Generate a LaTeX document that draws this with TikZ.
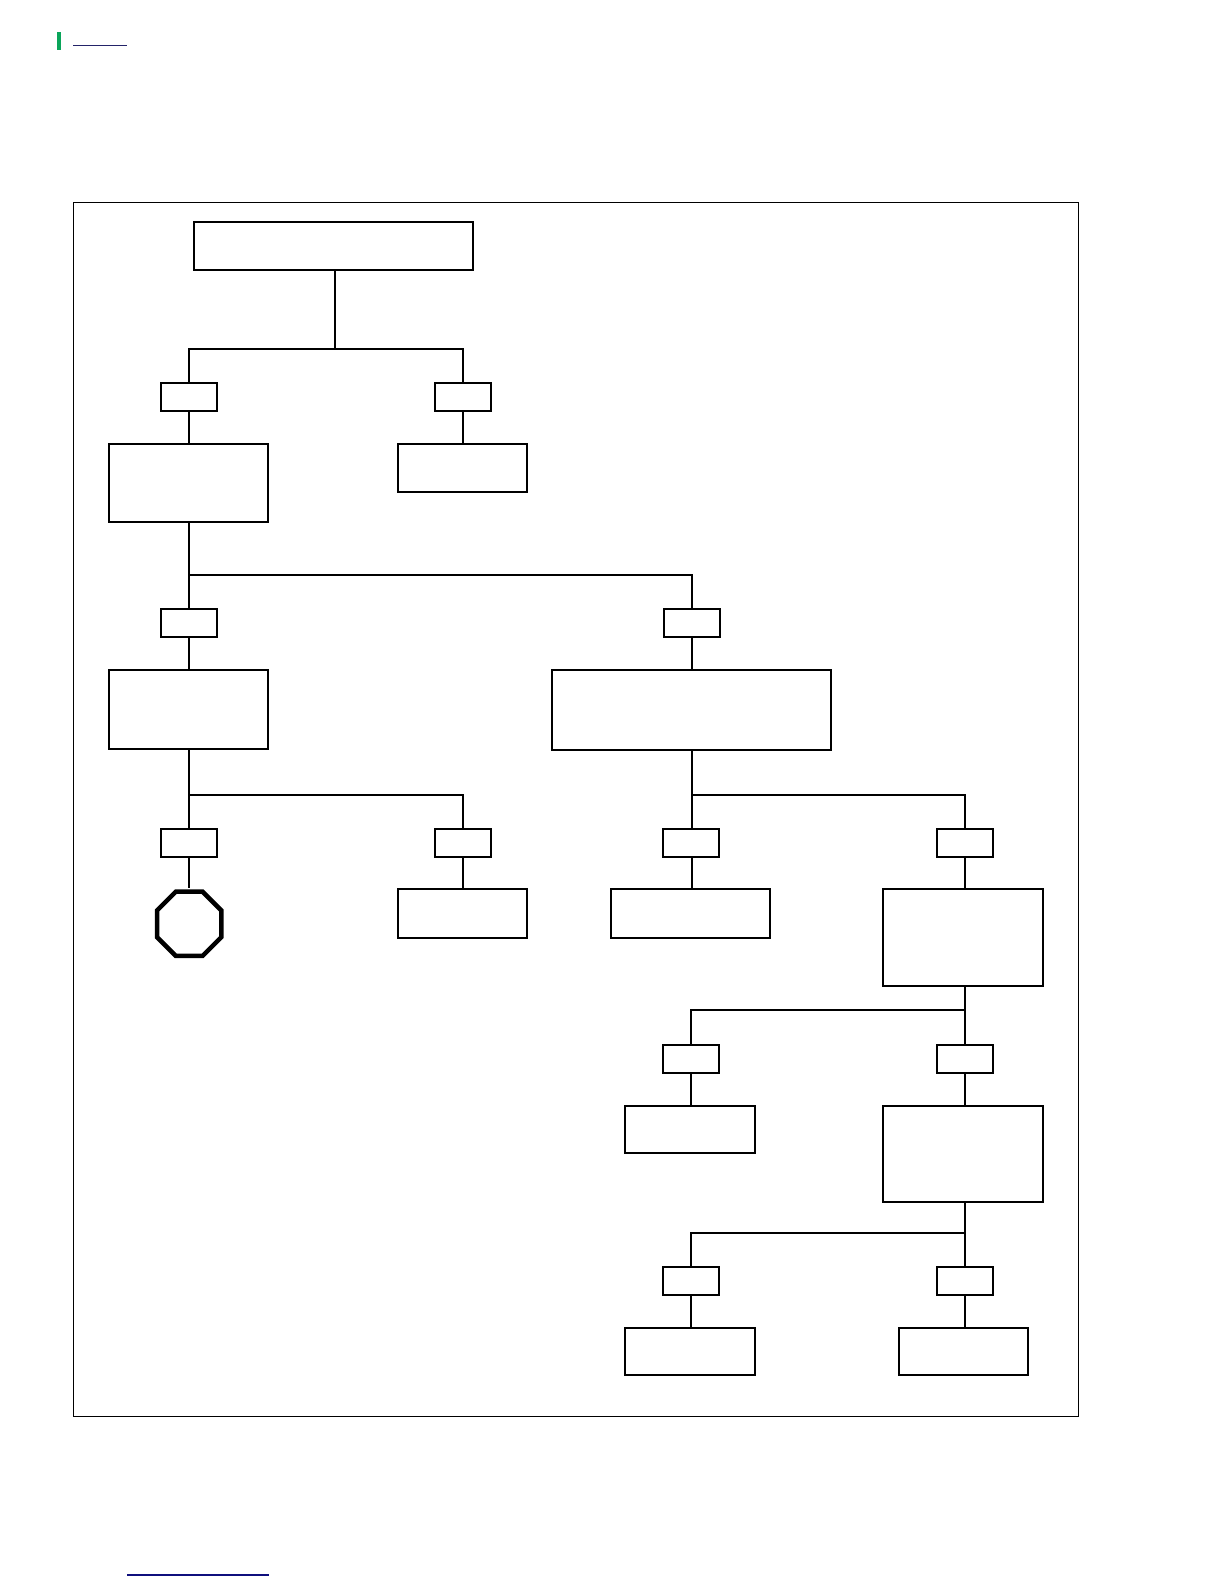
\documentclass[tikz,border=0pt]{standalone}
\usetikzlibrary{shapes.geometric}
\definecolor{markgreen}{RGB}{10,165,90}
\definecolor{ruleA}{RGB}{35,35,105}
\definecolor{ruleB}{RGB}{15,15,125}
\tikzset{
  bx/.style={draw=black,fill=white,rectangle,line width=1.02bp,inner sep=0pt,outer sep=0pt},
  tag/.style={bx,minimum width=33.6bp,minimum height=17bp},
  wire/.style={draw=black,line width=1.02bp,line join=miter},
  stopsign/.style={draw=black,fill=white,regular polygon,regular polygon sides=8,line width=2.7bp,inner sep=0pt,outer sep=0pt,minimum size=41.8bp},
  frame/.style={draw=black,line width=0.6bp}
}
\begin{document}
\begin{tikzpicture}[x=0.6bp,y=-0.6bp]
\useasboundingbox (0,0) rectangle (1224,1584);
\fill[white] (0,0) rectangle (1224,1584);
% page marks
\fill[markgreen] (57,32) rectangle (61,50);
\draw[ruleA,line width=0.8bp] (73,45.3) -- (127,45.3);
\draw[ruleB,line width=0.8bp] (127,1575) -- (269,1575);
% frame
\draw[frame] (73.7,202.3) rectangle (1078.3,1416);
% level 0
\node[bx,minimum width=167.76bp,minimum height=28.8bp] (top) at (333.5,246) {};
\coordinate (j1) at (335,349);
% level 1
\node[tag] (s1L) at (189,396.85) {};
\node[tag] (s1R) at (463,396.85) {};
\node[bx,minimum width=95.58bp,minimum height=46.98bp] (A) at (188.65,482.85) {};
\node[bx,minimum width=77.76bp,minimum height=28.98bp] (B) at (462.5,467.85) {};
\coordinate (j2) at (189,575);
% level 2
\node[tag] (s2L) at (189,623) {};
\node[tag] (s2R) at (692,623) {};
\node[bx,minimum width=95.58bp,minimum height=47.4bp] (C) at (188.65,709.5) {};
\node[bx,minimum width=167.4bp,minimum height=48.18bp] (D) at (691.5,709.85) {};
\coordinate (j3) at (189,795);
\coordinate (j4) at (692,795);
% level 3
\node[tag] (s3a) at (189,843) {};
\node[tag] (s3b) at (463,843) {};
\node[tag] (s3c) at (691.3,843) {};
\node[tag] (s3d) at (965,843) {};
\node[stopsign] (stop) at (189.2,923.8) {};
\coordinate (stoptop) at (189,888.4);
\node[bx,minimum width=95.4bp,minimum height=29.58bp] (K0) at (690.2,913.35) {};
\node[bx,minimum width=77.76bp,minimum height=29.58bp] (K) at (462.5,913.35) {};
\node[bx,minimum width=96bp,minimum height=58.38bp] (F) at (963.2,937.35) {};
\coordinate (j5) at (965,1010);
% level 4
\node[tag] (s4a) at (691,1058.85) {};
\node[tag] (s4b) at (965,1058.85) {};
\node[bx,minimum width=78.18bp,minimum height=28.2bp] (G) at (690.15,1129.5) {};
\node[bx,minimum width=96.18bp,minimum height=57.42bp] (H) at (963.15,1153.85) {};
\coordinate (j6) at (965,1233);
% level 5
\node[tag] (s5a) at (691,1280.85) {};
\node[tag] (s5b) at (965,1280.85) {};
\node[bx,minimum width=78.18bp,minimum height=28.2bp] (I) at (690.15,1351.5) {};
\node[bx,minimum width=77.4bp,minimum height=28.2bp] (J) at (963.5,1351.5) {};
% connectors
\draw[wire] (top.south -| j1) -- (j1);
\draw[wire] (s1L.north) |- (j1) -| (s1R.north);
\draw[wire] (s1L.south) -- (s1L.south |- A.north);
\draw[wire] (s1R.south) -- (s1R.south |- B.north);
\draw[wire] (A.south -| j2) -- (s2L.north);
\draw[wire] (j2) -| (s2R.north);
\draw[wire] (s2L.south) -- (s2L.south |- C.north);
\draw[wire] (s2R.south) -- (s2R.south |- D.north);
\draw[wire] (C.south -| j3) -- (s3a.north);
\draw[wire] (j3) -| (s3b.north);
\draw[wire] (D.south -| j4) -- (j4 |- s3c.north);
\draw[wire] (j4) -| (s3d.north);
\draw[wire] (s3a.south) -- (stoptop);
\draw[wire] (s3b.south) -- (s3b.south |- K.north);
\draw[wire] (j4 |- s3c.south) -- (j4 |- K0.north);
\draw[wire] (s3d.south) -- (s3d.south |- F.north);
\draw[wire] (F.south -| j5) -- (s4b.north);
\draw[wire] (j5) -| (s4a.north);
\draw[wire] (s4a.south) -- (s4a.south |- G.north);
\draw[wire] (s4b.south) -- (s4b.south |- H.north);
\draw[wire] (H.south -| j6) -- (s5b.north);
\draw[wire] (j6) -| (s5a.north);
\draw[wire] (s5a.south) -- (s5a.south |- I.north);
\draw[wire] (s5b.south) -- (s5b.south |- J.north);
\end{tikzpicture}
\end{document}
